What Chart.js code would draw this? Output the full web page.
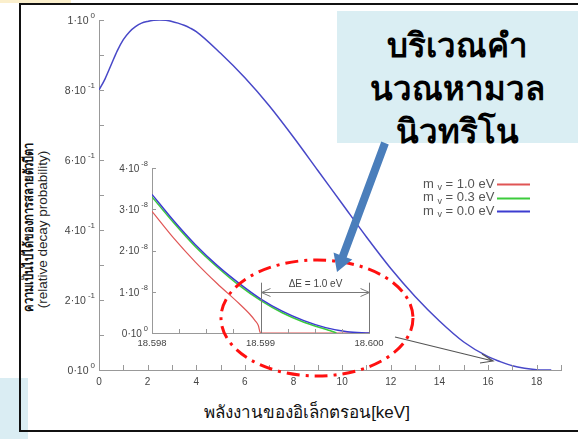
<!DOCTYPE html>
<html>
<head>
<meta charset="utf-8">
<script src="https://cdn.jsdelivr.net/npm/chart.js@4.4.0/dist/chart.umd.min.js"></script>
<style>
  html, body { margin: 0; padding: 0; background: #fff; }
  body { width: 578px; height: 439px; position: relative; overflow: hidden; font-family: "Liberation Sans", Arial, sans-serif; }
  canvas { position: absolute; left: 0; top: 0; }
  .strip { position: absolute; left: 0; top: 0; width: 71px; height: 3px; background: #fbefcc; }
  .sidebox { position: absolute; left: 0; top: 378px; width: 28px; height: 61px; background: #daedf3; }
  .frame { position: absolute; left: 19px; top: 3px; width: 600px; height: 425px; border: 2px solid #111; }
  .callout { position: absolute; left: 337px; top: 11px; width: 241px; height: 132px; background: #daeef3; }
  .callout div { position: absolute; left: 0; width: 241px; text-align: center; font-weight: bold; font-size: 33px; line-height: 40px; color: #000; }
  .ytitle { position: absolute; width: 260px; text-align: center; white-space: nowrap; }
  .xtitle { position: absolute; left: 150px; top: 398px; width: 314px; text-align: center; font-size: 17px; color: #111; }
</style>
</head>
<body>
<div class="strip"></div>
<div class="sidebox"></div>
<div class="frame"></div>
<div class="callout">
  <div style="top:15px">บริเวณคำ</div>
  <div style="top:58px">นวณหามวล</div>
  <div style="top:101px">นิวทริโน</div>
</div>
<div class="ytitle" style="left:-102px; top:217px; font-size:13px; font-weight:bold; color:#111; transform: rotate(-90deg) scaleX(0.86);">ความเป็นไปได้ของการสลายตัวบีตา</div>
<div class="ytitle" style="left:-88px; top:222px; font-size:13.5px; color:#222; transform: rotate(-90deg);">(relative decay probability)</div>
<div class="xtitle">พลังงานของอิเล็กตรอน[keV]</div>
<canvas id="main" width="578" height="439"></canvas>
<canvas id="inset" width="578" height="439"></canvas>
<script>
// full tritium beta spectrum (energy in keV, relative probability)
const energyKeV = [0, 0.25, 0.5, 0.75, 1, 1.25, 1.5, 1.75, 2, 2.25, 2.5, 2.75, 3, 3.25, 3.5, 3.75, 4, 5, 6, 7, 8, 9, 10, 11, 12, 13, 14, 15, 16, 16.5, 17, 17.5, 18, 18.3, 18.6];
const decayProb = [0.80, 0.832, 0.872, 0.912, 0.944, 0.966, 0.981, 0.991, 0.996, 0.999, 1.0, 0.999, 0.996, 0.991, 0.985, 0.977, 0.967, 0.905, 0.835, 0.755, 0.665, 0.57, 0.475, 0.38, 0.29, 0.21, 0.14, 0.08, 0.038, 0.024, 0.012, 0.005, 0.001, 0.0002, 0];
const mainYMant = ['0', '2', '4', '6', '8', '1'];
const mainYExp = ['0', '-1', '-1', '-1', '-1', '0'];

// endpoint region, probability in units of 1e-8
const neutrinoMassEV = [1.0, 0.3, 0.0];
const endE_m10 = [18.598, 18.5982, 18.5984, 18.5986, 18.5988, 18.5989, 18.59895, 18.59898, 18.599, 18.600];
const endP_m10 = [2.95, 2.30, 1.72, 1.20, 0.72, 0.46, 0.30, 0.18, 0, 0];
const endE_m03 = [18.598, 18.5982, 18.5984, 18.5986, 18.5988, 18.599, 18.5992, 18.5994, 18.5996, 18.59965, 18.5997];
const endP_m03 = [3.30, 2.67, 2.09, 1.60, 1.16, 0.79, 0.49, 0.26, 0.09, 0.05, 0];
const endE_m00 = [18.598, 18.5982, 18.5984, 18.5986, 18.5988, 18.599, 18.5992, 18.5994, 18.5996, 18.5998, 18.600];
const endP_m00 = [3.36, 2.72, 2.14, 1.64, 1.21, 0.83, 0.53, 0.30, 0.13, 0.03, 0];
const insetXLabels = ['18.598', '18.599', '18.600'];
const insetYMant = ['0', '1', '2', '3', '4'];
const insetYExp = ['0', '-8', '-8', '-8', '-8'];

const toPoints = (xs, ys) => xs.map((v, i) => ({ x: v, y: ys[i] }));
const FAMILY = '"Liberation Sans", Arial, sans-serif';

// inward tick marks, plus "a·10^b" labels on the y axis
const inwardTicks = {
  id: 'inwardTicks',
  afterDraw(chart, args, opts) {
    const { ctx, scales: { x, y } } = chart;
    ctx.save();
    ctx.strokeStyle = '#999';
    ctx.lineWidth = 1;
    ctx.beginPath();
    x.ticks.forEach(t => {
      const px = Math.round(x.getPixelForValue(t.value)) + 0.5;
      ctx.moveTo(px, x.top);
      ctx.lineTo(px, x.top - opts.len);
    });
    y.ticks.forEach(t => {
      const py = Math.round(y.getPixelForValue(t.value)) + 0.5;
      ctx.moveTo(y.right, py);
      ctx.lineTo(y.right + opts.len, py);
    });
    ctx.stroke();

    ctx.fillStyle = '#444';
    ctx.textAlign = 'right';
    ctx.textBaseline = 'middle';
    opts.mant.forEach((m, i) => {
      const py = y.getPixelForValue(opts.values[i]);
      let rx = y.right - 4;
      ctx.font = opts.expSize + 'px ' + FAMILY;
      ctx.fillText(opts.exp[i], rx, py - 4);
      rx -= ctx.measureText(opts.exp[i]).width + 2;
      ctx.font = opts.size + 'px ' + FAMILY;
      ctx.fillText(m + '·10', rx, py + 1);
    });
    ctx.restore();
  }
};

new Chart(document.getElementById('main'), {
  type: 'line',
  data: {
    datasets: [{
      data: toPoints(energyKeV, decayProb),
      borderColor: '#4848c8',
      borderWidth: 1.5,
      pointRadius: 0,
      cubicInterpolationMode: 'monotone',
      fill: false
    }]
  },
  options: {
    responsive: false,
    animation: false,
    events: [],
    layout: { padding: { top: 20, right: 17, left: 0, bottom: 0 } },
    plugins: {
      legend: { display: false },
      tooltip: { enabled: false },
      inwardTicks: { len: 5, mant: mainYMant, exp: mainYExp, values: [0, 0.2, 0.4, 0.6, 0.8, 1], size: 10.5, expSize: 8 }
    },
    scales: {
      x: {
        type: 'linear', min: 0, max: 19,
        afterFit: s => { s.height = 69; },
        grid: { display: false, drawTicks: false },
        border: { color: '#999' },
        ticks: {
          stepSize: 1, autoSkip: false, maxRotation: 0, padding: 6, color: '#444', font: { family: FAMILY, size: 10 },
          callback: v => (v % 2 === 0 && v <= 18 ? String(v) : '')
        }
      },
      y: {
        min: 0, max: 1,
        afterFit: s => { s.width = 99; },
        grid: { display: false, drawTicks: false },
        border: { color: '#999' },
        ticks: { stepSize: 0.1, autoSkip: false, display: false }
      }
    }
  },
  plugins: [inwardTicks]
});

// legend, ΔE bracket and the callout shapes on top of the inset
const insetDecor = {
  id: 'insetDecor',
  afterDraw(chart) {
    const { ctx, scales: { x, y } } = chart;
    ctx.save();

    // legend
    chart.data.datasets.forEach((ds, i) => {
      const ty = 184 + i * 13.5;
      ctx.fillStyle = '#555';
      ctx.textBaseline = 'middle';
      ctx.font = '13px ' + FAMILY;
      let tx = 423;
      ctx.fillText('m', tx, ty);
      tx += ctx.measureText('m ').width;
      ctx.font = '9px ' + FAMILY;
      ctx.fillText('v', tx, ty + 4);
      tx += ctx.measureText('v').width;
      ctx.font = '13px ' + FAMILY;
      ctx.fillText(' = ' + neutrinoMassEV[i].toFixed(1) + ' eV', tx, ty);
      ctx.strokeStyle = ds.borderColor;
      ctx.lineWidth = 2;
      ctx.beginPath();
      ctx.moveTo(497, Math.round(ty) + 0.5);
      ctx.lineTo(530, Math.round(ty) + 0.5);
      ctx.stroke();
    });

    // ΔE = 1.0 eV bracket
    const xa = Math.round(x.getPixelForValue(18.599)) + 0.5;
    const xb = Math.round(x.getPixelForValue(18.600)) + 0.5;
    const yTop = y.getPixelForValue(1.22);
    const yArr = Math.round(y.getPixelForValue(1.0)) + 0.5;
    ctx.strokeStyle = '#777';
    ctx.lineWidth = 1;
    ctx.beginPath();
    ctx.moveTo(xa, yTop); ctx.lineTo(xa, y.bottom);
    ctx.moveTo(xb, yTop); ctx.lineTo(xb, y.bottom);
    ctx.moveTo(xa, yArr); ctx.lineTo(xb, yArr);
    ctx.moveTo(xa + 9, yArr - 4); ctx.lineTo(xa, yArr); ctx.lineTo(xa + 9, yArr + 4);
    ctx.moveTo(xb - 9, yArr - 4); ctx.lineTo(xb, yArr); ctx.lineTo(xb - 9, yArr + 4);
    ctx.stroke();
    ctx.fillStyle = '#444';
    ctx.font = '10px ' + FAMILY;
    ctx.textAlign = 'center';
    ctx.textBaseline = 'alphabetic';
    ctx.fillText('ΔE = 1.0 eV', (xa + xb) / 2, yTop + 4);

    // red dash-dot ellipse
    ctx.strokeStyle = '#ff1010';
    ctx.lineWidth = 3;
    ctx.setLineDash([13, 6, 3, 6]);
    ctx.beginPath();
    ctx.ellipse(317, 318, 96, 58, 0, 0, Math.PI * 2);
    ctx.stroke();
    ctx.setLineDash([]);

    // thin grey pointer to the spectrum tail
    ctx.strokeStyle = '#555';
    ctx.lineWidth = 1.2;
    ctx.beginPath();
    ctx.moveTo(395, 337); ctx.lineTo(493, 361);
    ctx.moveTo(482, 354); ctx.lineTo(493, 361); ctx.lineTo(480, 363);
    ctx.stroke();

    // thick blue callout arrow
    const sx = 385, sy = 143, tx = 337, ty = 272;
    const len = Math.hypot(tx - sx, ty - sy);
    const ux = (tx - sx) / len, uy = (ty - sy) / len;
    const nx = -uy, ny = ux;
    const bx = tx - 17 * ux, by = ty - 17 * uy;
    ctx.fillStyle = '#4a7ebb';
    ctx.beginPath();
    ctx.moveTo(sx + 4 * nx, sy + 4 * ny);
    ctx.lineTo(bx + 4 * nx, by + 4 * ny);
    ctx.lineTo(bx + 10 * nx, by + 10 * ny);
    ctx.lineTo(tx, ty);
    ctx.lineTo(bx - 10 * nx, by - 10 * ny);
    ctx.lineTo(bx - 4 * nx, by - 4 * ny);
    ctx.lineTo(sx - 4 * nx, sy - 4 * ny);
    ctx.closePath();
    ctx.fill();

    ctx.restore();
  }
};

new Chart(document.getElementById('inset'), {
  type: 'line',
  data: {
    datasets: [
      { data: toPoints(endE_m10, endP_m10), borderColor: '#e05555', borderWidth: 1.2, order: 3 },
      { data: toPoints(endE_m03, endP_m03), borderColor: '#3ccc3c', borderWidth: 1.5, order: 2 },
      { data: toPoints(endE_m00, endP_m00), borderColor: '#3c3cd0', borderWidth: 1.5, order: 1 }
    ].map(d => Object.assign(d, { pointRadius: 0, cubicInterpolationMode: 'monotone', fill: false }))
  },
  options: {
    responsive: false,
    animation: false,
    events: [],
    layout: { padding: { top: 168, right: 209, left: 0, bottom: 0 } },
    plugins: {
      legend: { display: false },
      tooltip: { enabled: false },
      inwardTicks: { len: 4, mant: insetYMant, exp: insetYExp, values: [0, 1, 2, 3, 4], size: 10, expSize: 7.5 }
    },
    scales: {
      x: {
        type: 'linear', min: 18.598, max: 18.600,
        afterFit: s => { s.height = 106; },
        grid: { display: false, drawTicks: false },
        border: { color: '#999' },
        ticks: {
          stepSize: 0.00025, autoSkip: false, maxRotation: 0, padding: 5, color: '#444', font: { family: FAMILY, size: 9.5 },
          callback: (v, i) => (i % 4 === 0 ? insetXLabels[i / 4] : '')
        }
      },
      y: {
        min: 0, max: 4,
        afterFit: s => { s.width = 152; },
        grid: { display: false, drawTicks: false },
        border: { color: '#999' },
        ticks: { stepSize: 1, autoSkip: false, display: false }
      }
    }
  },
  plugins: [inwardTicks, insetDecor]
});
</script>
</body>
</html>
